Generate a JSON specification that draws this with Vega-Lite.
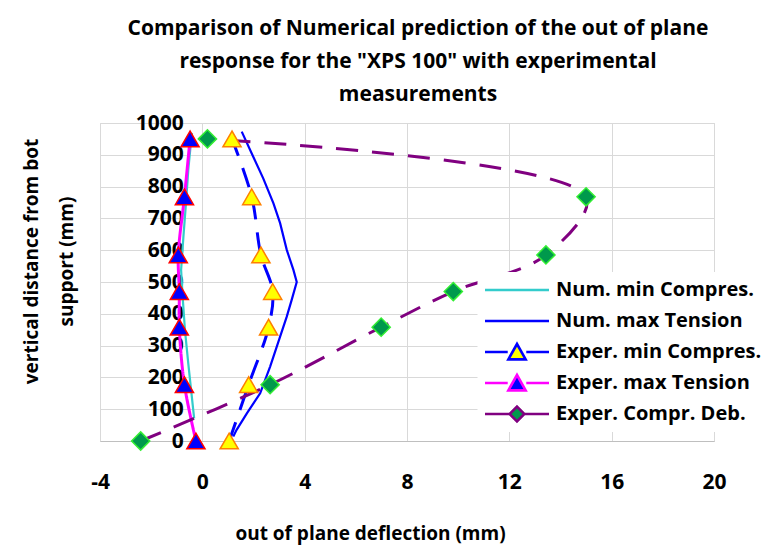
{
  "$schema": "https://vega.github.io/schema/vega-lite/v6.json",
  "autosize": "none",
  "width": 614,
  "height": 318,
  "padding": {"left": 100, "top": 123, "right": 64, "bottom": 111},
  "background": "white",
  "config": {
    "font": "Open Sans",
    "view": {"stroke": "#d9d9d9", "strokeWidth": 1}
  },
  "title": {
    "text": ["Comparison of Numerical prediction of the out of plane", "response for the \"XPS 100\" with experimental", "measurements"],
    "font": "Open Sans",
    "fontSize": 21,
    "fontWeight": "bold",
    "color": "#000000",
    "lineHeight": 33,
    "anchor": "middle",
    "frame": "group",
    "baseline": "bottom",
    "offset": -14,
    "dx": 11
  },
  "datasets": {
    "num": [
      {"s": "Num. min Compres.", "x": -0.41, "h": 969},
      {"s": "Num. min Compres.", "x": -0.55, "h": 852},
      {"s": "Num. min Compres.", "x": -0.64, "h": 747},
      {"s": "Num. min Compres.", "x": -0.74, "h": 642},
      {"s": "Num. min Compres.", "x": -0.83, "h": 538},
      {"s": "Num. min Compres.", "x": -0.77, "h": 454},
      {"s": "Num. min Compres.", "x": -0.68, "h": 349},
      {"s": "Num. min Compres.", "x": -0.55, "h": 244},
      {"s": "Num. min Compres.", "x": -0.41, "h": 139},
      {"s": "Num. min Compres.", "x": -0.32, "h": 71},
      {"s": "Num. max Tension", "x": 1.54, "h": 973},
      {"s": "Num. max Tension", "x": 1.99, "h": 894},
      {"s": "Num. max Tension", "x": 2.38, "h": 826},
      {"s": "Num. max Tension", "x": 2.78, "h": 747},
      {"s": "Num. max Tension", "x": 3.04, "h": 685},
      {"s": "Num. max Tension", "x": 3.30, "h": 601},
      {"s": "Num. max Tension", "x": 3.56, "h": 538},
      {"s": "Num. max Tension", "x": 3.69, "h": 500},
      {"s": "Num. max Tension", "x": 3.49, "h": 443},
      {"s": "Num. max Tension", "x": 3.30, "h": 391},
      {"s": "Num. max Tension", "x": 3.04, "h": 328},
      {"s": "Num. max Tension", "x": 2.65, "h": 234},
      {"s": "Num. max Tension", "x": 2.26, "h": 150},
      {"s": "Num. max Tension", "x": 1.74, "h": 87},
      {"s": "Num. max Tension", "x": 1.34, "h": 35},
      {"s": "Num. max Tension", "x": 1.21, "h": 14}
    ],
    "exp": [
      {"s": "Exper. min Compres.", "x": 1.05, "h": 0},
      {"s": "Exper. min Compres.", "x": 1.81, "h": 177},
      {"s": "Exper. min Compres.", "x": 2.59, "h": 358},
      {"s": "Exper. min Compres.", "x": 2.75, "h": 470},
      {"s": "Exper. min Compres.", "x": 2.29, "h": 585},
      {"s": "Exper. min Compres.", "x": 1.93, "h": 768},
      {"s": "Exper. min Compres.", "x": 1.16, "h": 950},
      {"s": "Exper. max Tension", "x": -0.25, "h": 0},
      {"s": "Exper. max Tension", "x": -0.70, "h": 177},
      {"s": "Exper. max Tension", "x": -0.90, "h": 358},
      {"s": "Exper. max Tension", "x": -0.90, "h": 470},
      {"s": "Exper. max Tension", "x": -0.94, "h": 585},
      {"s": "Exper. max Tension", "x": -0.70, "h": 768},
      {"s": "Exper. max Tension", "x": -0.48, "h": 950},
      {"s": "Exper. Compr. Deb.", "x": -2.41, "h": 0},
      {"s": "Exper. Compr. Deb.", "x": 2.65, "h": 177},
      {"s": "Exper. Compr. Deb.", "x": 6.99, "h": 358},
      {"s": "Exper. Compr. Deb.", "x": 9.81, "h": 470},
      {"s": "Exper. Compr. Deb.", "x": 13.43, "h": 585},
      {"s": "Exper. Compr. Deb.", "x": 15.0, "h": 768},
      {"s": "Exper. Compr. Deb.", "x": 0.2, "h": 950}
    ]
  },
  "resolve": {"axis": {"y": "independent"}},
  "layer": [
    {
      "data": {"name": "num"},
      "mark": {"type": "line", "strokeWidth": 2.2, "interpolate": "linear"},
      "encoding": {
        "x": {
          "field": "x", "type": "quantitative",
          "scale": {"domain": [-4, 20], "nice": false, "zero": false},
          "axis": {
            "values": [-4, 0, 4, 8, 12, 16, 20],
            "labelExpr": "datum.value + ''",
            "grid": true, "gridColor": "#d9d9d9", "gridWidth": 1,
            "domainColor": "#bfbfbf", "domainWidth": 1,
            "ticks": false, "labelPadding": 30,
            "labelFont": "Open Sans", "labelFontSize": 21, "labelFontWeight": "bold", "labelColor": "#000000",
            "labelFlush": false, "labelOverlap": false,
            "title": "out of plane deflection (mm)",
            "titleFont": "Open Sans", "titleFontSize": 19, "titleFontWeight": "bold", "titleColor": "#000000",
            "titleX": 270, "titleY": 92, "titleBaseline": "middle", "titleAlign": "center", "titleAnchor": null
          }
        },
        "y": {
          "field": "h", "type": "quantitative",
          "scale": {"domain": [0, 1000], "nice": false, "zero": false},
          "axis": {
            "orient": "left",
            "values": [0, 100, 200, 300, 400, 500, 600, 700, 800, 900, 1000],
            "grid": true, "gridColor": "#d9d9d9", "gridWidth": 1,
            "domain": false, "ticks": false, "labels": false,
            "title": ["vertical distance from bot", "support (mm)"],
            "titleFont": "Open Sans", "titleFontSize": 19, "titleFontWeight": "bold", "titleColor": "#000000",
            "titleAngle": -90, "titleX": -68.5, "titleY": 138, "titleBaseline": "middle", "titleAlign": "center",
            "titleLineHeight": 35, "titleAnchor": null
          }
        },
        "order": {"field": "h", "type": "quantitative"},
        "color": {
          "field": "s", "type": "nominal",
          "scale": {
            "domain": ["Num. min Compres.", "Num. max Tension", "Exper. min Compres.", "Exper. max Tension", "Exper. Compr. Deb."],
            "range": ["#33CCCC", "#0000FF", "#0000FF", "#FF00FF", "#800080"]
          },
          "legend": {
            "orient": "none", "legendX": 377.5, "legendY": 149,
            "title": null,
            "symbolType": "stroke", "symbolSize": 4096, "symbolStrokeWidth": 2.6,
            "clipHeight": 24, "rowPadding": 7, "padding": 6,
            "fillColor": "#ffffff", "strokeColor": null,
            "labelFont": "Open Sans", "labelFontSize": 20, "labelFontWeight": "bold", "labelColor": "#000000",
            "labelOffset": 5.5, "labelLimit": 400,
            "encode": {
              "symbols": {
                "update": {
                  "shape": {"signal": "datum.value === 'Exper. min Compres.' || datum.value === 'Exper. max Tension' ? 'M-1,0H-0.29M0.29,0H1M-0.27,0.23L0,-0.25L0.27,0.23Z' : datum.value === 'Exper. Compr. Deb.' ? 'M-1,0H-0.25M0.25,0H1M-0.23,0L0,-0.23L0.23,0L0,0.23Z' : 'M-1,0H1'"},
                  "fill": {"signal": "datum.value === 'Exper. min Compres.' ? '#FFFF00' : datum.value === 'Exper. max Tension' ? '#0000FF' : datum.value === 'Exper. Compr. Deb.' ? '#00994C' : 'transparent'"}
                }
              }
            }
          }
        }
      }
    },
    {
      "data": {"name": "exp"},
      "mark": {"type": "line", "strokeWidth": 3, "interpolate": "catmull-rom"},
      "encoding": {
        "x": {"field": "x", "type": "quantitative"},
        "y": {
          "field": "h", "type": "quantitative",
          "axis": {
            "orient": "left", "offset": -102.3,
            "values": [0, 100, 200, 300, 400, 500, 600, 700, 800, 900, 1000],
            "format": "d",
            "grid": false, "domain": false, "ticks": false,
            "labelPadding": 19,
            "labelFont": "Open Sans", "labelFontSize": 21, "labelFontWeight": "bold", "labelColor": "#000000",
            "labelFlush": false, "labelOverlap": false,
            "title": null
          }
        },
        "order": {"field": "h", "type": "quantitative"},
        "color": {"field": "s", "type": "nominal"},
        "strokeDash": {
          "field": "s", "type": "nominal",
          "scale": {
            "domain": ["Exper. min Compres.", "Exper. max Tension", "Exper. Compr. Deb."],
            "range": [[20, 13], [1, 0], [22, 14]]
          },
          "legend": null
        }
      }
    },
    {
      "data": {"name": "exp"},
      "mark": {"type": "point", "filled": true, "size": 330, "opacity": 1, "strokeWidth": 1.5},
      "encoding": {
        "x": {"field": "x", "type": "quantitative"},
        "y": {"field": "h", "type": "quantitative", "axis": null},
        "fill": {
          "field": "s", "type": "nominal",
          "scale": {
            "domain": ["Exper. min Compres.", "Exper. max Tension", "Exper. Compr. Deb."],
            "range": ["#FFFF00", "#0000FF", "#00994C"]
          },
          "legend": null
        },
        "stroke": {
          "field": "s", "type": "nominal",
          "scale": {
            "domain": ["Exper. min Compres.", "Exper. max Tension", "Exper. Compr. Deb."],
            "range": ["#FF8000", "#FF0000", "#33EE33"]
          },
          "legend": null
        },
        "shape": {
          "field": "s", "type": "nominal",
          "scale": {
            "domain": ["Exper. min Compres.", "Exper. max Tension", "Exper. Compr. Deb."],
            "range": ["triangle-up", "triangle-up", "diamond"]
          },
          "legend": {
            "orient": "none", "legendX": 407.2, "legendY": 217,
            "title": null,
            "symbolSize": 330, "symbolStrokeWidth": 1.5, "symbolOpacity": 1,
            "clipHeight": 24, "rowPadding": 7, "padding": 0,
            "labelFont": "Open Sans", "labelFontSize": 20, "labelFontWeight": "bold",
            "labelColor": "transparent", "labelOffset": 5.5, "labelLimit": 400,
            "encode": {
              "symbols": {
                "update": {
                  "fill": {"signal": "datum.value === 'Exper. min Compres.' ? '#FFFF00' : datum.value === 'Exper. max Tension' ? '#0000FF' : '#00994C'"},
                  "stroke": {"signal": "datum.value === 'Exper. min Compres.' ? '#FF8000' : datum.value === 'Exper. max Tension' ? '#FF0000' : '#33EE33'"},
                  "opacity": {"value": 1}
                }
              }
            }
          }
        }
      }
    }
  ]
}
